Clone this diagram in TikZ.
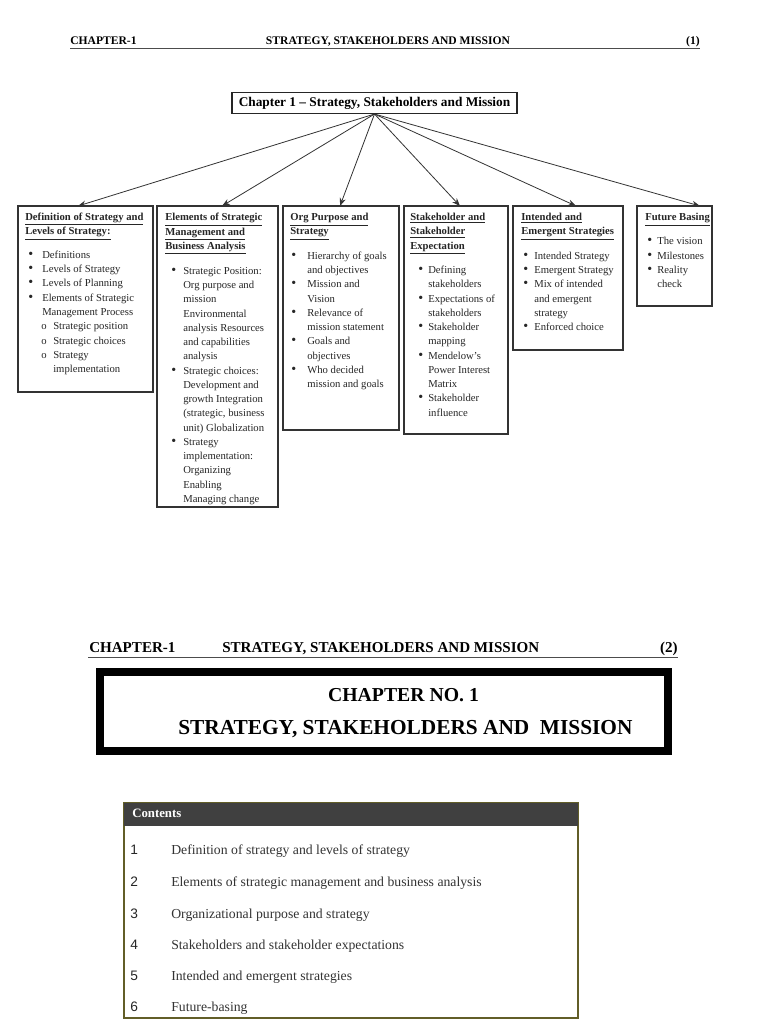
\documentclass[tikz,border=0pt]{standalone}
\usepackage{fontspec}
\setmainfont{Liberation Serif}
\newfontfamily\arialf{Liberation Sans}
\usetikzlibrary{arrows.meta,calc}
\newdimen\unitpx \unitpx=0.75pt
\newcommand\dotb{{\fontsize{10.5}{10}\selectfont\textbullet}}
\newcommand\bu[3]{\hspace*{#1\unitpx}\makebox[\dimexpr#2\unitpx-#1\unitpx\relax][l]{\dotb}#3}
\newcommand\so[3]{\hspace*{#1\unitpx}\makebox[\dimexpr#2\unitpx-#1\unitpx\relax][l]{o}#3}
\newcommand\co[2]{\hspace*{#1\unitpx}#2}
\newcommand\hd[1]{\underline{\textbf{#1}}}
\begin{document}
\begin{tikzpicture}[x=0.75pt,y=-0.75pt,
  box/.style={draw=black!80, line width=0.8pt, inner sep=0pt, outer sep=0pt, anchor=north west},
  body/.style={anchor=north west, inner sep=0pt, align=left, font=\fontsize{8}{10.7}\selectfont, text=black!85},
  link/.style={draw=black!80, line width=0.6pt, -{Stealth[length=6pt,width=4.5pt]}},
  hdrA/.style={font=\fontsize{8.7}{10}\selectfont\bfseries, inner sep=0pt},
  hdrB/.style={font=\fontsize{11.3}{13}\selectfont\bfseries, inner sep=0pt},
  citem/.style={anchor=base west, inner sep=0pt, font=\fontsize{10.3}{12}\selectfont, text=black!80},
  cnum/.style={anchor=base west, inner sep=0pt, font=\arialf\fontsize{10.3}{12}\selectfont, text=black!85}]

\fill[white] (0,0) rectangle (768,1024);
\useasboundingbox (0,0) rectangle (768,1024);

% ---------- page 1 header
\node[hdrA, anchor=base west] (h1a) at (70,45) {CHAPTER-1};
\node[hdrA, anchor=base] (h1b) at (388,45) {STRATEGY, STAKEHOLDERS AND MISSION};
\node[hdrA, anchor=base east] (h1c) at (700,45) {(1)};
\draw[black!70, line width=1.3pt] (70,48.5) -- (700,48.5);

% ---------- root
\node[draw=black!85, line width=0.8pt, inner sep=0pt, minimum width=285*0.75pt, minimum height=21*0.75pt,
      font=\fontsize{10}{11}\selectfont\bfseries] (root) at (374.5,103) {Chapter 1 – Strategy, Stakeholders and Mission};

% ---------- boxes
\node[box, minimum width=135*0.75pt, minimum height=186*0.75pt] (b1) at (18,206) {};
\node[box, minimum width=121*0.75pt, minimum height=301*0.75pt] (b2) at (157,206) {};
\node[box, minimum width=116*0.75pt, minimum height=224*0.75pt] (b3) at (283,206) {};
\node[box, minimum width=104*0.75pt, minimum height=228*0.75pt] (b4) at (404,206) {};
\node[box, minimum width=110*0.75pt, minimum height=144*0.75pt] (b5) at (513,206) {};
\node[box, minimum width=75*0.75pt, minimum height=100*0.75pt] (b6) at (637,206) {};

\draw[link] (root.south) -- ($(b1.north west)+(60,0)$);
\draw[link] (root.south) -- ($(b2.north west)+(65,0)$);
\draw[link] (root.south) -- ($(b3.north west)+(57,0)$);
\draw[link] (root.south) -- ($(b4.north west)+(56,0)$);
\draw[link] (root.south) -- ($(b5.north west)+(63,0)$);
\draw[link] (root.south) -- ($(b6.north west)+(63,0)$);

% ---------- box texts
\node[body] (t1) at (25,212.5) {%
\hd{Definition of Strategy and}\\
\hd{Levels of Strategy:}\\[7.2pt]
\bu{3}{17}{Definitions}\\
\bu{3}{17}{Levels of Strategy}\\
\bu{3}{17}{Levels of Planning}\\
\bu{3}{17}{Elements of Strategic}\\
\co{17}{Management Process}\\
\so{16}{28}{Strategic position}\\
\so{16}{28}{Strategic choices}\\
\so{16}{28}{Strategy}\\
\co{28}{implementation}};

\node[body] (t2) at (165,213) {%
\hd{Elements of Strategic}\\
\hd{Management and}\\
\hd{Business Analysis}\\[8pt]
\bu{6}{18}{Strategic Position:}\\
\co{18}{Org purpose and}\\
\co{18}{mission}\\
\co{18}{Environmental}\\
\co{18}{analysis Resources}\\
\co{18}{and capabilities}\\
\co{18}{analysis}\\
\bu{6}{18}{Strategic choices:}\\
\co{18}{Development and}\\
\co{18}{growth Integration}\\
\co{18}{(strategic, business}\\
\co{18}{unit) Globalization}\\
\bu{6}{18}{Strategy}\\
\co{18}{implementation:}\\
\co{18}{Organizing}\\
\co{18}{Enabling}\\
\co{18}{Managing change}};

\node[body] (t3) at (290,213) {%
\hd{Org Purpose and}\\
\hd{Strategy}\\[7.5pt]
\bu{1}{17}{Hierarchy of goals}\\
\co{17}{and objectives}\\
\bu{1}{17}{Mission and}\\
\co{17}{Vision}\\
\bu{1}{17}{Relevance of}\\
\co{17}{mission statement}\\
\bu{1}{17}{Goals and}\\
\co{17}{objectives}\\
\bu{1}{17}{Who decided}\\
\co{17}{mission and goals}};

\node[body] (t4) at (410,213) {%
\hd{Stakeholder and}\\
\hd{Stakeholder}\\
\hd{Expectation}\\[7.5pt]
\bu{8}{18}{Defining}\\
\co{18}{stakeholders}\\
\bu{8}{18}{Expectations of}\\
\co{18}{stakeholders}\\
\bu{8}{18}{Stakeholder}\\
\co{18}{mapping}\\
\bu{8}{18}{Mendelow’s}\\
\co{18}{Power Interest}\\
\co{18}{Matrix}\\
\bu{8}{18}{Stakeholder}\\
\co{18}{influence}};

\node[body] (t5) at (521,213) {%
\hd{Intended and}\\
\hd{Emergent Strategies}\\[7.5pt]
\bu{2}{13}{Intended Strategy}\\
\bu{2}{13}{Emergent Strategy}\\
\bu{2}{13}{Mix of intended}\\
\co{13}{and emergent}\\
\co{13}{strategy}\\
\bu{2}{13}{Enforced choice}};

\node[body] (t6) at (645,213) {%
\hd{Future Basing}\\[7.5pt]
\bu{2}{12}{The vision}\\
\bu{2}{12}{Milestones}\\
\bu{2}{12}{Reality}\\
\co{12}{check}};

% ---------- page 2 header
\node[hdrB, anchor=base west] (h2a) at (89,652) {CHAPTER-1};
\node[hdrB, anchor=base west] (h2b) at (222,652) {STRATEGY, STAKEHOLDERS AND MISSION};
\node[hdrB, anchor=base east] (h2c) at (678,652) {(2)};
\draw[black!70, line width=1.3pt] (88,657.5) -- (678,657.5);

% ---------- chapter frame
\node[draw=black, line width=8*0.75pt, inner sep=0pt, minimum width=568*0.75pt, minimum height=79*0.75pt] (frame) at (383.5,711) {};
\node[font=\fontsize{14.8}{16}\selectfont\bfseries, inner sep=0pt, anchor=base] (ch1) at (403.5,701) {CHAPTER NO. 1};
\node[font=\fontsize{16}{18}\selectfont\bfseries, inner sep=0pt, anchor=base west] (ch2) at (178,734) {STRATEGY, STAKEHOLDERS AND\ \ MISSION};

% ---------- contents
\node[draw=olive!60!black, line width=1.6pt, inner sep=0pt, anchor=north west, minimum width=454*0.75pt, minimum height=215*0.75pt] (cbox) at (123,802) {};
\fill[black!75] ($(cbox.north west)+(1,1)$) rectangle ($(cbox.north east)+(-1,24)$);
\node[anchor=base west, inner sep=0pt, font=\fontsize{9.6}{10}\selectfont\bfseries, text=white] (ctitle) at (132,817) {Contents};
\foreach \n/\t/\y in {1/Definition of strategy and levels of strategy/854,
                      2/Elements of strategic management and business analysis/886,
                      3/Organizational purpose and strategy/918,
                      4/Stakeholders and stakeholder expectations/949,
                      5/Intended and emergent strategies/980,
                      6/Future-basing/1011}{
  \node[cnum] (cn\n) at (130,\y) {\n};
  \node[citem] (ci\n) at (171,\y) {\t};
}
\end{tikzpicture}
\end{document}
